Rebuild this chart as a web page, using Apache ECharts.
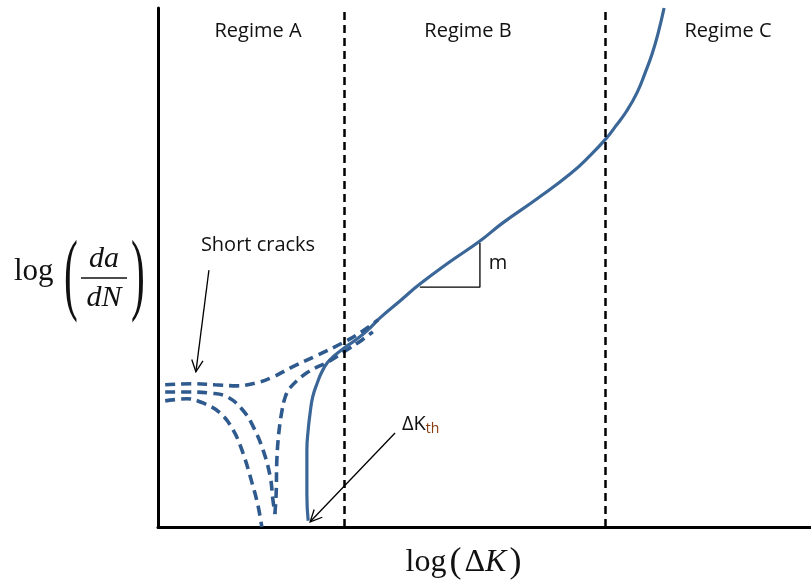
<!DOCTYPE html>
<html><head><meta charset="utf-8">
<script src="https://cdn.jsdelivr.net/npm/echarts@6/dist/echarts.min.js"></script>
<style>html,body{margin:0;padding:0;background:#fff}#c{width:811px;height:588px}</style>
</head><body><div id="c"></div>
<script>
// Axis units: arbitrary log scale, 0..100 on both axes
const mainCurve = [[23.0,1.2],[22.8,6.2],[22.8,11.0],[22.8,14.8],[23.0,18.7],[23.3,22.0],[23.7,25.1],[24.4,27.8],[25.1,29.9],[25.9,31.6],[27.0,33.0],[28.3,34.3],[30.2,36.0],[32.0,37.8],[34.0,40.3],[37.1,43.6],[40.1,46.8],[44.7,51.1],[49.3,55.1],[52.8,58.6],[58.0,63.2],[63.1,68.0],[66.2,71.6],[68.8,75.1],[70.0,77.1],[71.8,80.2],[73.4,83.8],[74.6,87.5],[75.7,91.3],[76.6,95.2],[77.5,100.0]];
const shortTop = [[1.1,27.4],[5.4,27.6],[8.7,27.4],[12.1,27.2],[15.2,27.8],[17.6,28.9],[20.2,30.6],[24.4,33.1],[28.3,35.5],[30.9,37.4],[33.7,39.9]];
const shortMidDown = [[1.1,26.0],[4.9,26.0],[8.0,25.8],[10.6,25.1],[13.0,22.5],[14.6,19.3],[16.1,14.8],[17.2,9.6],[17.6,5.2],[17.9,2.5]];
const shortMidUp = [[17.9,2.5],[18.1,6.6],[18.2,12.9],[18.5,18.1],[19.0,22.5],[19.5,25.1],[20.2,26.8],[22.8,29.7],[26.3,32.0],[28.9,34.1],[31.2,36.0],[32.9,37.6]];
const shortBottom = [[1.1,24.3],[4.4,24.7],[6.9,23.9],[9.5,22.0],[11.5,18.7],[13.0,14.3],[14.4,8.5],[15.3,4.2],[15.9,0.0]];
const regimeBounds = [28.5, 68.5];
const slopeTriangle = [[40.1,46.2],[49.3,46.2],[49.3,54.7]];
const arrows = [[7.8,49.5,5.8,29.9],[36.3,18.1,23.3,1.0]];
const regimeLabels = ['Regime A','Regime B','Regime C'];

const BLUE = '#3b6698', DBLUE = '#2f5a8e';
const chart = echarts.init(document.getElementById('c'));
function dashed(data){
  return {type:'line',data:data,showSymbol:false,symbol:'none',smooth:0.4,silent:true,
    lineStyle:{color:DBLUE,width:3.6,type:[10,6]}};
}
const axisCommon = {type:'value',min:0,max:100,axisTick:{show:false},axisLabel:{show:false},splitLine:{show:false},
  axisLine:{show:true,onZero:false,lineStyle:{color:'#000',width:3}}};
chart.setOption({
  animation:false,
  grid:{left:158,right:0,top:8,bottom:61},
  xAxis:axisCommon,
  yAxis:axisCommon,
  series:[
    {type:'line',data:mainCurve,showSymbol:false,symbol:'none',smooth:0.5,clip:false,silent:true,
     lineStyle:{color:BLUE,width:3.2},
     markLine:{silent:true,symbol:'none',label:{show:false},
       lineStyle:{color:'#000',width:2.5,type:[8,5]},
       data:regimeBounds.map(v=>({xAxis:v}))}},
    dashed(shortTop),dashed(shortMidDown),dashed(shortMidUp),dashed(shortBottom),
    {type:'line',data:slopeTriangle,showSymbol:false,symbol:'none',silent:true,
     lineStyle:{color:'#000',width:1.3}},
    {type:'custom',data:arrows,silent:true,
     renderItem:function(params,api){
       const p1=api.coord([api.value(0),api.value(1)]);
       const p2=api.coord([api.value(2),api.value(3)]);
       const ang=Math.atan2(p2[1]-p1[1],p2[0]-p1[0]);
       const L=13, a=0.45;
       const h1=[p2[0]-L*Math.cos(ang-a),p2[1]-L*Math.sin(ang-a)];
       const h2=[p2[0]-L*Math.cos(ang+a),p2[1]-L*Math.sin(ang+a)];
       return {type:'group',children:[
         {type:'line',shape:{x1:p1[0],y1:p1[1],x2:p2[0],y2:p2[1]},style:{stroke:'#000',lineWidth:1.3}},
         {type:'polyline',shape:{points:[h1,p2,h2]},style:{stroke:'#000',lineWidth:1.3,fill:null}}
       ]};
     }}
  ],
  graphic:[
    {type:'text',x:258,y:31,style:{text:regimeLabels[0],font:'20px "Open Sans"',fill:'#111',align:'center',verticalAlign:'middle'}},
    {type:'text',x:468,y:31,style:{text:regimeLabels[1],font:'20px "Open Sans"',fill:'#111',align:'center',verticalAlign:'middle'}},
    {type:'text',x:728,y:31,style:{text:regimeLabels[2],font:'20px "Open Sans"',fill:'#111',align:'center',verticalAlign:'middle'}},
    {type:'text',x:258,y:245,style:{text:'Short cracks',font:'20px "Open Sans"',fill:'#111',align:'center',verticalAlign:'middle'}},
    {type:'text',x:498,y:263,style:{text:'m',font:'20px "Open Sans"',fill:'#111',align:'center',verticalAlign:'middle'}},
    {type:'text',x:402,y:424,style:{text:'{a|ΔK}{b|th}',align:'left',verticalAlign:'middle',
      rich:{a:{font:'20px "Open Sans"',fill:'#111'},b:{font:'14px "Open Sans"',fill:'#8a3a0a',padding:[10,0,0,0]}}}},
    // y axis name: log(da/dN)
    {type:'text',x:14,y:272,style:{text:'log',font:'31px "Liberation Serif"',fill:'#111',verticalAlign:'middle'}},
    {type:'text',x:71,y:279,scaleX:0.45,style:{text:'(',font:'92px "Liberation Serif"',fill:'#111',align:'center',verticalAlign:'middle'}},
    {type:'text',x:138,y:279,scaleX:0.45,style:{text:')',font:'92px "Liberation Serif"',fill:'#111',align:'center',verticalAlign:'middle'}},
    {type:'text',x:104,y:259,style:{text:'da',font:'italic 30px "Liberation Serif"',fill:'#111',align:'center',verticalAlign:'middle'}},
    {type:'line',shape:{x1:81,y1:278,x2:127,y2:278},style:{stroke:'#111',lineWidth:1.5}},
    {type:'text',x:104,y:298,style:{text:'dN',font:'italic 30px "Liberation Serif"',fill:'#111',align:'center',verticalAlign:'middle'}},
    // x axis name: log(ΔK)
    {type:'text',x:465,y:563,style:{text:'{a|log}{p|(}{a|Δ}{k|K}{p|)}',align:'center',verticalAlign:'middle',
      rich:{a:{font:'32px "Liberation Serif"',fill:'#111'},k:{font:'italic 32px "Liberation Serif"',fill:'#111'},p:{font:'36px "Liberation Serif"',fill:'#111',padding:[0,3,0,3]}}}}
  ]
});
</script></body></html>
